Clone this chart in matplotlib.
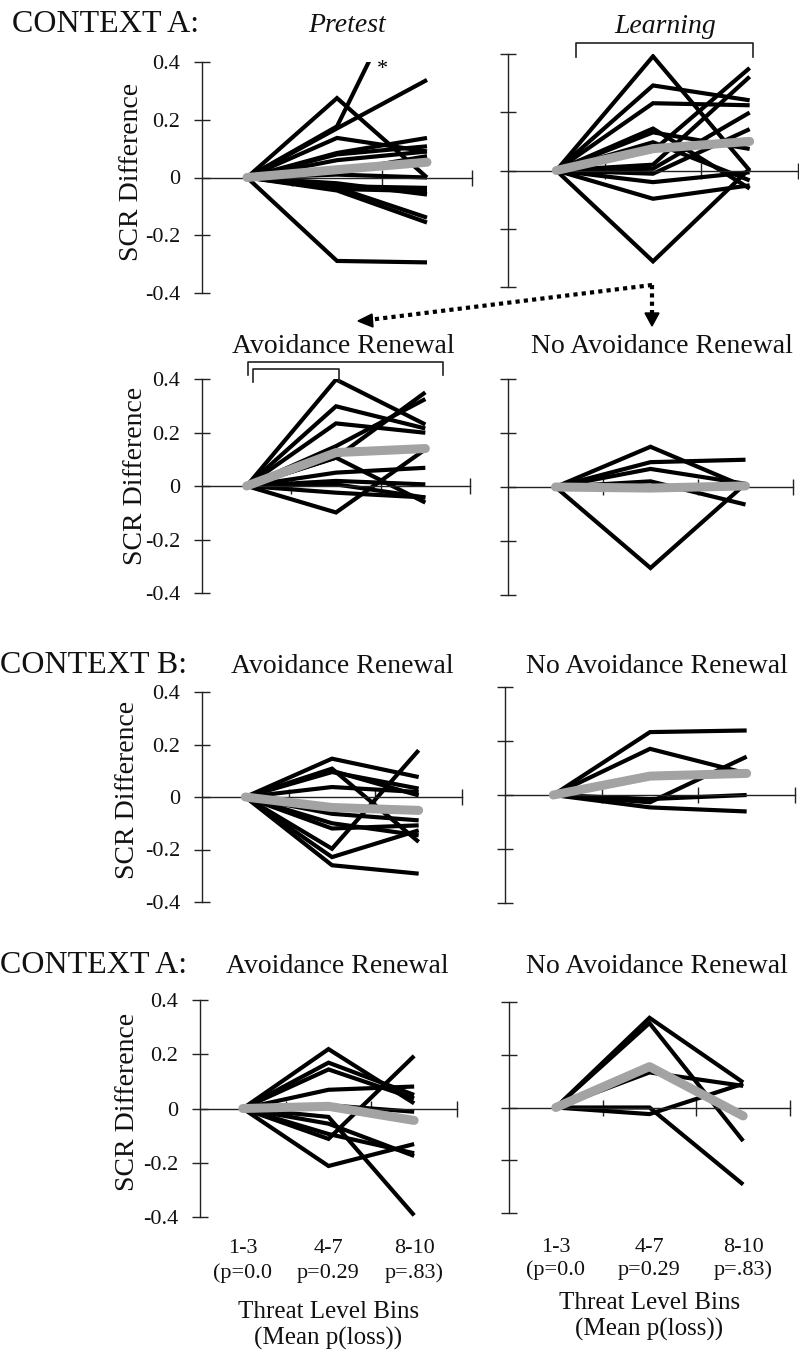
import numpy as np
import matplotlib
matplotlib.use("Agg")
import matplotlib.pyplot as plt
from matplotlib.transforms import blended_transform_factory
from matplotlib.patches import Polygon

plt.rcParams['font.family'] = ['Liberation Serif', 'DejaVu Serif']

# ---- data: SCR difference per participant, threat bins 1-3 / 4-7 / 8-10 ----
bins = ["1-3", "4-7", "8-10"]
bin_p = ["(p=0.0", "p=0.29", "p=.83)"]
y_ticks = [-0.4, -0.2, 0, 0.2, 0.4]
y_tick_labels = ["-0.4", "-0.2", "0", "0.2", "0.4"]

pretest_lines = [
    [0, 0.177, 0.81], [0, 0.17, 0.338], [0, 0.275, 0.0], [0, 0.137, 0.09],
    [0, 0.085, 0.137], [0, 0.08, 0.108], [0, 0.06, 0.09], [0, 0.02, 0.074],
    [0, 0.01, 0.0], [0, -0.03, -0.036], [0, -0.04, -0.047], [0, -0.02, -0.059],
    [0, -0.035, -0.139], [0, -0.045, -0.156], [0, -0.289, -0.294],
]
pretest_mean = [0, 0.027, 0.053]

learning_lines = [
    [0, 0.392, 0.0], [0, -0.312, 0.006], [0, 0.292, 0.241], [0, 0.231, 0.224],
    [0, 0.144, -0.062], [0, 0.131, 0.074], [0, 0.068, 0.352], [0, 0.02, 0.322],
    [0, 0.097, -0.034], [0, 0.006, 0.199], [0, -0.011, 0.142], [0, -0.04, -0.006],
    [0, -0.097, -0.051],
]
learning_mean = [0, 0.075, 0.1]

renew_a1_lines = [
    [0, 0.398, 0.23], [0, 0.298, 0.215], [0, 0.234, 0.199], [0, 0.106, 0.35],
    [0, 0.149, 0.325], [0, -0.099, 0.137], [0, 0.106, -0.062], [0, 0.05, 0.068],
    [0, 0.019, 0.006], [0, 0.006, -0.043], [0, -0.025, -0.043],
]
renew_a1_mean = [0, 0.125, 0.14]

norenew_a1_lines = [
    [0, 0.149, 0.0], [0, 0.092, 0.101], [0, 0.067, 0.012],
    [0, -0.3, 0.012], [0, 0.021, -0.065],
]
norenew_a1_mean = [0, -0.004, 0.004]

renew_b_lines = [
    [0, 0.146, 0.076], [0, 0.108, -0.171], [0, 0.095, 0.032], [0, 0.038, 0.019],
    [0, -0.197, 0.178], [0, -0.229, -0.127], [0, -0.26, -0.292], [0, -0.12, -0.108],
    [0, -0.064, -0.089], [0, -0.1, -0.146], [0, 0.1, 0.006],
]
renew_b_mean = [0, -0.04, -0.051]

norenew_b_lines = [
    [0, 0.233, 0.239], [0, 0.171, 0.08], [0, -0.027, 0.142],
    [0, -0.015, 0.0], [0, -0.046, -0.061],
]
norenew_b_mean = [0, 0.07, 0.08]

renew_a2_lines = [
    [0, 0.219, 0.019], [0, 0.169, 0.05], [0, 0.144, 0.037], [0, 0.069, 0.081],
    [0, -0.112, 0.194], [0, -0.031, -0.394], [0, -0.212, -0.131], [0, -0.056, -0.175],
    [0, -0.094, -0.165], [0, 0.012, -0.012],
]
renew_a2_mean = [0, 0.008, -0.044]

norenew_a2_lines = [
    [0, 0.34, 0.095], [0, 0.32, -0.127], [0, 0.133, 0.082],
    [0, -0.025, 0.09], [0, 0.0, -0.292],
]
norenew_a2_mean = [0, 0.155, -0.032]

W, H = 799, 1355
fig = plt.figure(figsize=(W / 100, H / 100), dpi=100)
fig.patch.set_facecolor("white")
xpos = np.arange(len(bins)) + 0.5


def box(x0, x1, ytop, ybot):
    return [x0 / W, 1 - ybot / H, (x1 - x0) / W, (ybot - ytop) / H]


def T(px, py, s, **kw):
    kw.setdefault("va", "baseline")
    kw.setdefault("color", "#111111")
    return fig.text(px / W, 1 - py / H, s, **kw)


def panel(lines, mean, rect, left_labels):
    ax = fig.add_axes(rect)
    ax.patch.set_visible(False)
    for ln in lines:
        ax.plot(xpos, ln, color="black", lw=3, solid_joinstyle="miter",
                solid_capstyle="butt", zorder=2)
    ax.plot(xpos, mean, color="#a3a3a3", lw=6.5, solid_capstyle="round",
            solid_joinstyle="round", zorder=3)
    ax.set_xlim(0, 3)
    ax.set_ylim(-0.4, 0.4)
    for s in ["top", "right"]:
        ax.spines[s].set_visible(False)
    ax.spines["bottom"].set_position(("data", 0))
    for s in ["bottom", "left"]:
        ax.spines[s].set_linewidth(1)
        ax.spines[s].set_color("#222222")
    ax.set_xticks([1, 2, 3])
    ax.set_xticklabels([])
    ax.tick_params(axis="x", direction="inout", length=11, width=1, color="#222222")
    ax.set_yticks(y_ticks)
    ax.set_yticklabels(y_tick_labels if left_labels else [])
    ax.tick_params(axis="y", direction="inout", length=11, width=1, color="#222222",
                   labelsize=16, pad=10, labelcolor="#111111")
    return ax


ax1 = panel(pretest_lines, pretest_mean, box(202, 472, 62, 293), True)
ax2 = panel(learning_lines, learning_mean, box(508, 798, 54, 287), False)
ax3 = panel(renew_a1_lines, renew_a1_mean, box(202, 470, 379, 593), True)
ax4 = panel(norenew_a1_lines, norenew_a1_mean, box(508, 793, 379, 595), False)
ax5 = panel(renew_b_lines, renew_b_mean, box(202, 462, 692, 902), True)
ax6 = panel(norenew_b_lines, norenew_b_mean, box(505, 795, 687, 903), False)
ax7 = panel(renew_a2_lines, renew_a2_mean, box(200, 457, 1000, 1217), True)
ax8 = panel(norenew_a2_lines, norenew_a2_mean, box(509, 790, 1002, 1213), False)

ax1.text(2.01, 0.407, "*", fontsize=16, ha="center", va="top", clip_on=False)

# headings
T(12, 32, "CONTEXT A:", fontsize=23)
T(347, 32, "Pretest", fontsize=20, style="italic", ha="center")
T(665, 33, "Learning", fontsize=20, style="italic", ha="center")
T(343, 353, "Avoidance Renewal", fontsize=20, ha="center")
T(662, 353, "No Avoidance Renewal", fontsize=20, ha="center")
T(0, 673, "CONTEXT B:", fontsize=23)
T(342, 673, "Avoidance Renewal", fontsize=20, ha="center")
T(657, 673, "No Avoidance Renewal", fontsize=20, ha="center")
T(0, 973, "CONTEXT A:", fontsize=23)
T(337, 973, "Avoidance Renewal", fontsize=20, ha="center")
T(657, 973, "No Avoidance Renewal", fontsize=20, ha="center")

# y labels
for (px, py) in [(132, 172), (135, 476), (128, 790), (128, 1102)]:
    T(px, py, "SCR Difference", fontsize=20, rotation=90, ha="center", va="center")

# category labels under the bottom row
for ax, rows in [(ax7, (1253, 1278, 1318, 1345)), (ax8, (1252, 1275, 1309, 1336))]:
    tr = blended_transform_factory(ax.transData, fig.transFigure)
    for i in range(len(bins)):
        ax.text(xpos[i], 1 - rows[0] / H, bins[i], transform=tr, ha="center",
                va="baseline", fontsize=16, color="#111111")
        ax.text(xpos[i], 1 - rows[1] / H, bin_p[i], transform=tr, ha="center",
                va="baseline", fontsize=16, color="#111111")
    ax.text(xpos[1], 1 - rows[2] / H, "Threat Level Bins", transform=tr,
            ha="center", va="baseline", fontsize=18, color="#111111")
    ax.text(xpos[1], 1 - rows[3] / H, "(Mean p(loss))", transform=tr,
            ha="center", va="baseline", fontsize=18, color="#111111")

# overlay in pixel units for brackets and dotted arrows
ov = fig.add_axes([0, 0, 1, 1])
ov.set_xlim(0, W)
ov.set_ylim(H, 0)
ov.axis("off")
ov.patch.set_visible(False)


def bracket(x0, x1, ytop, ybot):
    ov.plot([x0, x0, x1, x1], [ybot, ytop, ytop, ybot], color="#222222", lw=1.2)


bracket(576, 753, 43, 57)
bracket(248, 443, 362, 375)
bracket(253, 339, 369, 382)

ov.plot([652, 368], [285, 320], color="black", lw=3, ls=(0, (1, 1)))
ov.plot([652, 652], [285, 315], color="black", lw=3, ls=(0, (1, 1)))
ov.add_patch(Polygon([[358, 321], [372, 314], [373, 327]], closed=True,
                     color="black"))
ov.add_patch(Polygon([[652, 326], [645, 313], [659, 313]], closed=True,
                     color="black"))

fig.savefig("out.png", dpi=100)
